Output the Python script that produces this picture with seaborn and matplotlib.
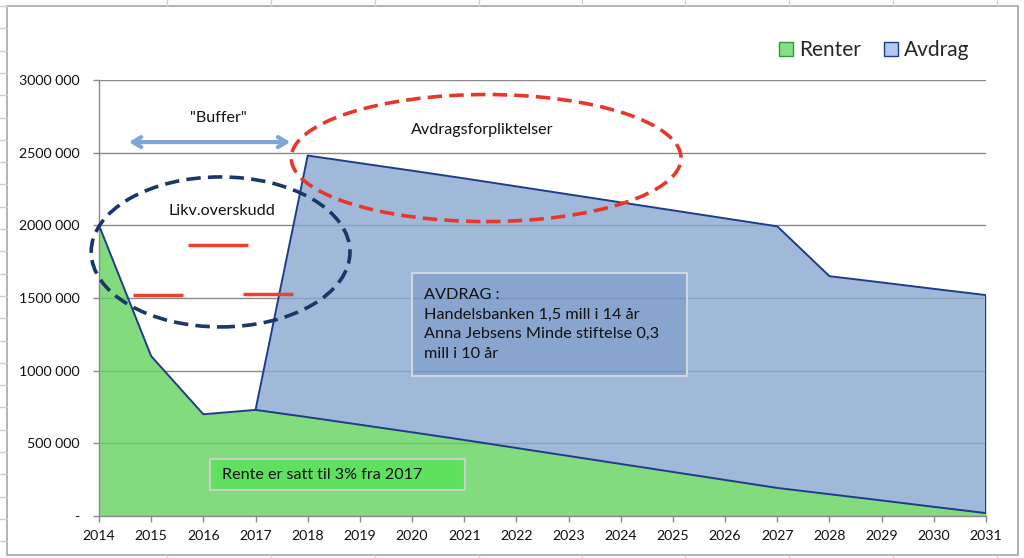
import numpy as np
import pandas as pd
import seaborn as sns
import matplotlib.pyplot as plt
from matplotlib.patches import Ellipse, Rectangle, Patch
from matplotlib.lines import Line2D
from matplotlib.ticker import FuncFormatter

years = list(range(2014, 2032))
renter = [2000000, 1100000, 700000, 730000, 680000, 628000, 576000, 523000, 468000,
          413000, 358000, 303000, 248000, 193000, 150000, 107000, 63000, 20000]
avdrag = [0, 0, 0, 0] + [1800000] * 10 + [1500000] * 4
legend_labels = ["Renter", "Avdrag"]

df = pd.DataFrame({"year": years, "Renter": renter, "Avdrag": avdrag})
df["Total"] = df["Renter"] + df["Avdrag"]

sns.set_theme(style="white")
plt.rcParams["font.family"] = ["Lato", "DejaVu Sans"]

W, H = 1024, 558
fig = plt.figure(figsize=(W / 100, H / 100), dpi=100)

# spreadsheet cells behind the chart
for x in [167, 271, 375, 479, 582, 685, 789, 893, 997]:
    fig.add_artist(Line2D([x / W, x / W], [1 - 6 / H, 1], color="#cfcfcf", lw=1))
    fig.add_artist(Line2D([x / W, x / W], [0, 3 / H], color="#cfcfcf", lw=1))
for k in range(25):
    y = 6 + 22.3 * k
    fig.add_artist(Line2D([0, 7 / W], [1 - y / H, 1 - y / H], color="#cfcfcf", lw=1))
fig.add_artist(Rectangle((7 / W, 3 / H), 1011 / W, 549 / H, transform=fig.transFigure,
                         fill=False, edgecolor="#a6a6a6", lw=1.2))

ax = fig.add_axes([99 / W, 1 - 516 / H, 887 / W, 436 / H])
ax.set_facecolor("none")

green = "#63d35d"
blue = "#88a8d0"
navy = "#1f3c8c"
grid = "#8a8a8a"

ax.fill_between(df["year"], 0, df["Renter"], color=green, alpha=0.8, lw=0, zorder=2)
ax.fill_between(df["year"], df["Renter"], df["Total"], color=blue, alpha=0.8, lw=0, zorder=2)
sns.lineplot(x=df["year"], y=df["Total"], color=navy, lw=1.4, ax=ax, zorder=3)
later = df[df["year"] >= 2017]
sns.lineplot(x=later["year"], y=later["Renter"], color=navy, lw=1.4, ax=ax, zorder=3)
ax.vlines(df["year"].iloc[-1], df["Renter"].iloc[-1], df["Total"].iloc[-1], color=navy, lw=1.4, zorder=3)

ax.set_xlim(2014, 2031)
ax.set_ylim(0, 3000000)
ax.set_xticks(years)
ax.set_yticks(range(0, 3000001, 500000))
ax.yaxis.set_major_formatter(FuncFormatter(
    lambda v, p: "-" if v == 0 else f"{int(v) // 1000} {int(v) % 1000:03d}"))
ax.set_xlabel("")
ax.set_ylabel("")
ax.yaxis.grid(True, color=grid, lw=1)
ax.set_axisbelow(True)
for s in ["top", "right"]:
    ax.spines[s].set_visible(False)
for s in ["left", "bottom"]:
    ax.spines[s].set_color(grid)
    ax.spines[s].set_linewidth(1)
ax.tick_params(axis="both", bottom=True, left=True, direction="out", length=4,
               width=1, color=grid, labelsize=10.2, labelcolor="#111111")
ax.tick_params(axis="y", pad=10)
ax.tick_params(axis="x", pad=6)

# legend
handles = [Patch(facecolor="#84e084", edgecolor="#2f9e35"),
           Patch(facecolor="#b3c9ea", edgecolor=navy)]
fig.legend(handles, legend_labels, loc="center right", bbox_to_anchor=(988 / W, 1 - 50 / H),
           ncol=2, frameon=False, fontsize=15, handlelength=0.65, handleheight=0.65,
           handletextpad=0.3, columnspacing=1.1)

# annotations
ax.add_patch(Ellipse((2021.42, 2.463e6), 7.47, 0.874e6, fill=False, edgecolor="#e8372a",
                     lw=2.6, linestyle=(0, (4, 2)), clip_on=False, zorder=6))
ax.add_patch(Ellipse((2016.33, 1.817e6), 4.96, 1.032e6, fill=False, edgecolor="#1b3668",
                     lw=2.6, linestyle=(0, (4, 2)), clip_on=False, zorder=6))
ax.text(2021.34, 2.656e6, "Avdragsforpliktelser", ha="center", va="center", fontsize=11.6, color="#111111")
ax.text(2016.36, 2.099e6, "Likv.overskudd", ha="center", va="center", fontsize=11.6, color="#111111")
ax.text(2016.28, 2.739e6, '"Buffer"', ha="center", va="center", fontsize=11.6, color="#111111")
ax.annotate("", xy=(2017.72, 2.573e6), xytext=(2014.52, 2.573e6),
            arrowprops=dict(arrowstyle="<->,head_length=0.5,head_width=0.3", color="#7fa6d6", lw=3),
            annotation_clip=False)

red = "#e8432f"
for x0, x1, y in [(2015.71, 2016.86, 1.865e6), (2014.65, 2015.61, 1.521e6), (2016.76, 2017.72, 1.528e6)]:
    ax.plot([x0, x1], [y, y], color=red, lw=2.5, solid_capstyle="butt", zorder=5)

ax.add_patch(Rectangle((2020.0, 0.963e6), 5.27, 0.709e6, facecolor="#5a82be", alpha=0.35,
                       edgecolor="none", zorder=4))
ax.add_patch(Rectangle((2020.0, 0.963e6), 5.27, 0.709e6, fill=False,
                       edgecolor="#d0d6de", lw=1.5, zorder=4))
ax.text(2020.23, 1.568e6, "AVDRAG :\nHandelsbanken 1,5 mill i 14 år\nAnna Jebsens Minde stiftelse 0,3\nmill i 10 år",
        ha="left", va="top", fontsize=11.7, linespacing=1.5, color="#111111", zorder=5)

ax.add_patch(Rectangle((2016.13, 179e3), 4.88, 213e3, facecolor="#5fe05f",
                       edgecolor="#c6d3c0", lw=1.5, zorder=4))
ax.text(2016.36, 282e3, "Rente er satt til 3% fra 2017", ha="left", va="center",
        fontsize=11.6, color="#111111", zorder=5)

fig.savefig("out.png", dpi=100)
